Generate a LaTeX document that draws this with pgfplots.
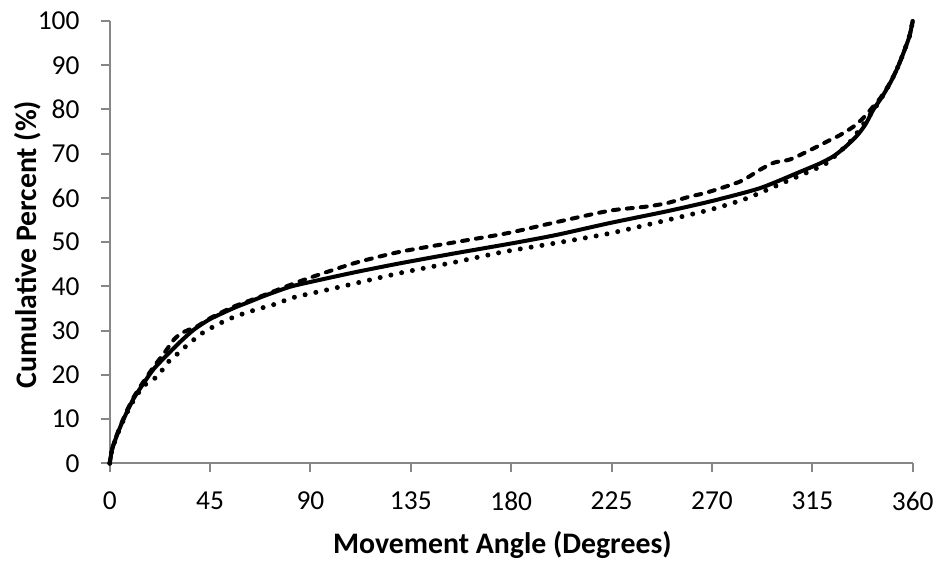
\documentclass[border=0pt]{standalone}
\usepackage{fontspec}
\setmainfont{Carlito}
\usepackage{pgfplots}
\pgfplotsset{compat=1.18}

\pgfplotstableread{
x y
0 0
1 3
2.5 5.3
4.8 8.3
7.8 11.7
10.8 14.7
15.2 18.1
19.7 21.3
25.7 24.5
31.7 27.5
37.7 30.2
45 32.6
55.6 35.1
63.1 36.6
70.6 38.1
80.8 39.9
90 41.0
110 43.2
130 45.2
155 47.5
180 49.7
200 51.6
224 54.3
250 57.0
270 59.3
291.5 62.2
309.5 65.9
318.4 67.8
324.4 69.4
329.5 71.4
334.9 74.0
338.8 76.6
342.3 79.9
346.2 82.8
349.8 85.9
353 89.2
355.8 92.7
358.5 96.5
360 100
}\solid

\pgfplotstableread{
x y
0 0
1 3
2.5 5.5
4.8 8.5
7.8 12
10.8 15
15.2 18.5
19.7 21.8
25 25.3
28.5 27.8
31.5 29.2
35 30.1
39 30.9
45 32.8
55 35.3
65 37.2
80.8 40.3
90 42.0
110 45.3
130 47.8
155 50.0
178 52.0
200 54.5
224 57.1
240 58.0
249.7 58.8
260 60.3
267.6 61.2
282.6 63.7
292 66.5
298 68.0
305 68.7
314 70.8
321 72.6
327.4 74.2
333.4 76.1
337.5 77.9
341 79.9
345.5 82.6
349.8 86
353 89.2
355.8 92.7
358.5 96.5
360 100
}\dashed

\pgfplotstableread{
x y
0 0
1 3
2.5 5.2
4.8 8.2
7.8 11.5
10.8 14.3
15.2 17.5
21.2 19.6
26.4 23.0
29.4 24.3
35.4 27.0
41.4 29.4
45.1 30.5
49.6 31.7
56.3 33.2
65.3 34.7
74.3 36.0
82.5 37.5
100 39.5
130 43.0
155 45.5
176.5 47.8
200 49.8
224.3 52.0
250 55.0
269.7 57.4
285.6 59.9
305 64.1
319.9 67.4
325 69.4
328.9 71.2
332.5 73.0
335.5 75.0
338.8 77.3
342 79.5
346 82.6
349.8 85.9
353 89.2
355.8 92.7
358.5 96.5
360 100
}\dotted

\begin{document}
\begin{tikzpicture}
\useasboundingbox (-109.7pt,-100.7pt) rectangle (831.3pt,463.3pt);
\begin{axis}[
  at={(0,0)}, anchor=south west,
  scale only axis, width=803pt, height=442.3pt,
  xmin=0, xmax=360, ymin=0, ymax=100,
  xtick={0,45,...,360}, ytick={0,10,...,100},
  axis x line*=bottom, axis y line*=left,
  axis line style={draw=black!47, line width=2pt},
  tick align=outside, major tick length=9pt,
  tick style={draw=black!47, line width=2pt},
  font=\fontsize{27.4}{32}\selectfont,
  /pgf/number format/assume math mode=true,
  xticklabel style={anchor=north, inner sep=0pt, yshift=-19pt},
  yticklabel style={anchor=east, inner sep=0pt, xshift=-21pt},
  clip=false,
  xlabel={\bfseries Movement Angle (Degrees)},
  ylabel={\bfseries Cumulative Percent (\%)},
  label style={font=\fontsize{29.8}{34}\selectfont},
  xlabel style={at={([yshift=-82pt]axis description cs:0.489,0)}, anchor=center},
  ylabel style={at={([xshift=-82pt]axis description cs:0,0.494)}, anchor=center},
  every axis plot/.append style={black, line join=round, smooth, tension=0.4},
]
\addplot[line width=4pt, line cap=round] table {\solid};
\addplot[line width=4pt, line cap=round, dash pattern=on 6pt off 8pt] table {\dashed};
\addplot[line width=5pt, line cap=round, dash pattern=on 0pt off 11pt] table {\dotted};
\end{axis}
\end{tikzpicture}
\end{document}
